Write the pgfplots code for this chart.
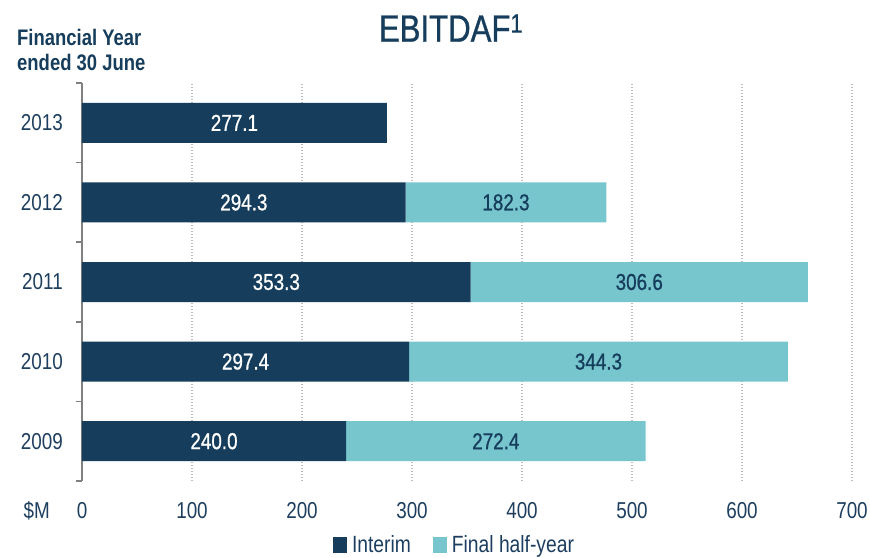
\documentclass[border=0pt]{standalone}
\usepackage{pgfplots}
\usepackage{pgfplotstable}
\pgfplotsset{compat=1.18}
\usepackage{fontspec}
\setmainfont[FakeStretch=0.82]{Liberation Sans}
\newfontfamily\medfont[FakeStretch=0.82,FakeBold=0.8]{Liberation Sans}
\definecolor{navy}{HTML}{163D5C}
\definecolor{tealc}{HTML}{77C6CD}
\definecolor{txt}{HTML}{1D3E5E}
\definecolor{gridc}{HTML}{BDBDBD}
\definecolor{axc}{HTML}{808080}
\pgfplotstableread{
Y A B
0 240.0 272.4
1 297.4 344.3
2 353.3 306.6
3 294.3 182.3
4 277.1 0
}\datatable
\begin{document}
\begin{tikzpicture}
\path[use as bounding box] (-82pt,-76pt) rectangle (788pt,481pt);
\begin{axis}[
  scale only axis, width=770pt, height=398pt,
  xbar stacked, bar width=40pt,
  xmin=0, xmax=700, ymin=-0.5, ymax=4.5,
  xtick={0,100,...,700},
  ytick={0,...,4}, yticklabels={2009,2010,2011,2012,2013},
  minor ytick={-0.5,0.5,...,4.5},
  axis y line*=left, axis x line*=bottom,
  x axis line style={draw=none},
  y axis line style={draw=axc, line width=1.5pt, -},
  tick align=outside,
  major tick length=0pt, minor tick length=6pt,
  minor tick style={draw=axc, line width=1.5pt},
  xmajorgrids,
  major x grid style={draw=gridc, line width=1.1pt, dash pattern=on 1.1pt off 1.9pt},
  /pgf/number format/assume math mode=true,
  ticklabel style={font=\fontsize{23}{25}\selectfont, text=txt},
  xticklabel style={anchor=base, yshift=-37.5pt},
  yticklabel style={anchor=east, inner sep=0pt, xshift=-19pt},
  legend style={at={(0.4838,-0.161)}, anchor=center, draw=none, fill=none,
    legend columns=2, font=\fontsize{23.5}{25}\selectfont, text=txt,
    /tikz/every odd column/.append style={column sep=3pt},
    /tikz/every even column/.append style={column sep=20pt},
    inner sep=0pt},
  legend image code/.code={\draw[#1, draw=none] (0pt,-8pt) rectangle (14pt,8pt);},
  nodes near coords style={font=\medfont\fontsize{23}{25}\selectfont, anchor=center},
]
\addplot[fill=navy, draw=none,
  point meta=explicit,
  nodes near coords={\pgfmathprintnumber[fixed,fixed zerofill,precision=1]{\pgfplotspointmeta}},
  every node near coord/.append style={text=white}]
  table[x index=1, y index=0, meta index=1] {\datatable};
\addplot[fill=tealc, draw=none,
  point meta=explicit,
  skip coords between index={4}{5},
  nodes near coords={\pgfmathprintnumber[fixed,fixed zerofill,precision=1]{\pgfplotspointmeta}},
  every node near coord/.append style={text=navy}]
  table[x index=2, y index=0, meta index=2] {\datatable};
\legend{Interim, Final half-year}
\end{axis}
\node[anchor=base east, font=\fontsize{23}{25}\selectfont, text=txt, inner sep=0pt] at (-32pt,-37.5pt) {\$M};
\node[font=\medfont\fontsize{38}{40}\selectfont, text=navy, inner sep=0pt] at (369pt,453pt) {EBITDAF\textsuperscript{1}};
\node[anchor=north west, align=left, font=\bfseries\fontsize{22.5}{25}\selectfont, text=navy, inner sep=0pt] at (-65pt,452pt) {Financial Year\\ended 30 June};
\end{tikzpicture}
\end{document}
